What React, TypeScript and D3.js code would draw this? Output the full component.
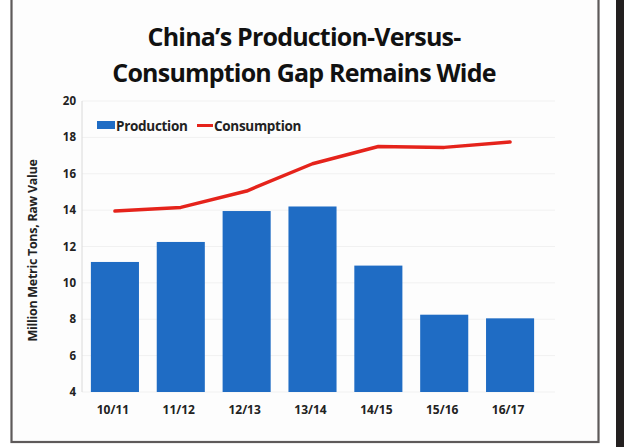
import React from "react";
import * as d3 from "d3";

const categories = ["10/11", "11/12", "12/13", "13/14", "14/15", "15/16", "16/17"];
const production = [11.15, 12.25, 13.95, 14.2, 10.95, 8.25, 8.05];
const consumption = [13.95, 14.15, 15.05, 16.55, 17.5, 17.45, 17.75];
const yTicks = [4, 6, 8, 10, 12, 14, 16, 18, 20];
const titleLines = ["China\u2019s Production-Versus-", "Consumption Gap Remains Wide"];
const yTitle = "Million Metric Tons, Raw Value";

const W = 624, H = 447;
const plot = { left: 82, right: 555, top: 101, bottom: 392 };
const FONT = "'Open Sans', 'Noto Sans', sans-serif";
const BLUE = "#1f6cc4";
const RED = "#e5231b";

export default function App() {
  const x = d3.scaleBand<string>().domain(categories).range([82, 543]).paddingInner(0.27).paddingOuter(0.135);
  const y = d3.scaleLinear().domain([4, 20]).range([plot.bottom, plot.top]);
  const line = d3.line<number>()
    .x((_, i) => (x(categories[i]) as number) + x.bandwidth() / 2)
    .y((d) => y(d))
    .curve(d3.curveLinear);

  return (
    <svg width={W} height={H} style={{ position: "absolute", left: 0, top: 0, background: "#fff" }}>
      <rect x={0} y={0} width={W} height={H} fill="#fff" />
      <rect x={616} y={0} width={8} height={H} fill="#231f20" />
      <rect x={11.5} y={-2} width={587} height={444} fill="#fdfdfd" stroke="#5e5a5a" strokeWidth={2.2} />
      {titleLines.map((t, i) => (
        <text key={i} x={304} y={46 + i * 36} textAnchor="middle" fontFamily={FONT} fontWeight={700}
          fontSize={25} fill="#111" letterSpacing={-0.8}>{t}</text>
      ))}
      {yTicks.map((t) => (
        <g key={t}>
          <line x1={plot.left} x2={plot.right} y1={y(t)} y2={y(t)} stroke="#f1f1f1" strokeWidth={1} />
          <text x={76} y={y(t)} dy="0.35em" textAnchor="end" fontFamily={FONT} fontWeight={700}
            fontSize={11.5} fill="#222">{t}</text>
        </g>
      ))}
      <line x1={plot.left} x2={plot.left} y1={plot.top} y2={plot.bottom} stroke="#dadada" strokeWidth={1} />
      {production.map((v, i) => (
        <rect key={i} x={x(categories[i])} y={y(v)} width={x.bandwidth()} height={y(4) - y(v)} fill={BLUE} />
      ))}
      <path d={line(consumption) || ""} fill="none" stroke={RED} strokeWidth={3.5} strokeLinejoin="round" strokeLinecap="round" />
      {categories.map((c) => (
        <text key={c} x={(x(c) as number) + x.bandwidth() / 2 - 2} y={414} textAnchor="middle" fontFamily={FONT}
          fontWeight={700} fontSize={12} fill="#222">{c}</text>
      ))}
      <text transform={`translate(37,${(plot.top + plot.bottom) / 2 + 4}) rotate(-90)`} textAnchor="middle"
        fontFamily={FONT} fontWeight={700} fontSize={12.5} fill="#222" letterSpacing={-0.3}>{yTitle}</text>
      <g>
        <rect x={97} y={121} width={18} height={8} fill={BLUE} />
        <text x={116} y={130.5} fontFamily={FONT} fontWeight={700} fontSize={13.5} fill="#222" letterSpacing={-0.3}>Production</text>
        <line x1={197} x2={213} y1={125.5} y2={125.5} stroke={RED} strokeWidth={3} />
        <text x={214} y={130.5} fontFamily={FONT} fontWeight={700} fontSize={13.5} fill="#222" letterSpacing={-0.3}>Consumption</text>
      </g>
    </svg>
  );
}
